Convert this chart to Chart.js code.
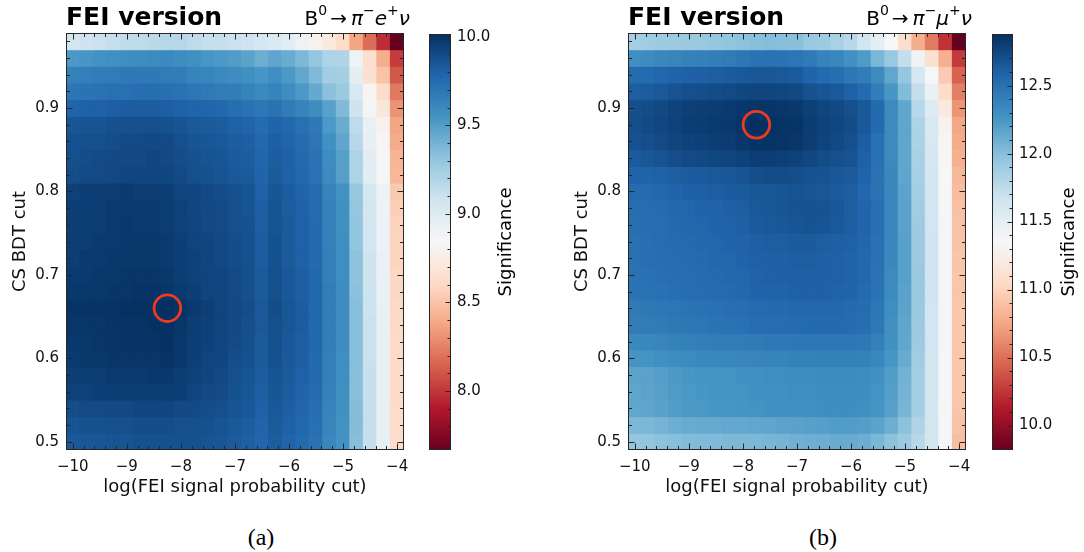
<!DOCTYPE html>
<html>
<head>
<meta charset="utf-8">
<script src="https://cdn.jsdelivr.net/npm/chart.js@4.4.1/dist/chart.umd.min.js"></script>
<style>
  html, body { margin: 0; padding: 0; background: #fff; }
  #fig { position: relative; width: 1084px; height: 552px; overflow: hidden;
         font-family: 'DejaVu Sans', sans-serif; color: #000; }
  .box { position: absolute; top: 0; }
  .box canvas { display: block; }
  .ttl { position: absolute; top: 2px; font-weight: bold; font-size: 25px; line-height: 29px; white-space: nowrap; }
  .decay { position: absolute; top: 6px; width: 220px; font-size: 20px; line-height: 24px;
           text-align: right; white-space: nowrap; }
  .decay sup { font-size: 70%; line-height: 0; position: relative; top: -0.15em; vertical-align: super; }
  .decay i { font-family: 'DejaVu Sans', sans-serif; font-style: oblique; }
  .arrow { padding: 0 4px 0 3px; }
  .cblab { position: absolute; width: 200px; height: 22px; line-height: 22px; font-size: 18px;
           text-align: center; transform: rotate(-90deg); white-space: nowrap; }
  .sub { position: absolute; top: 523px; width: 60px; line-height: 28px; text-align: center;
         font-family: 'Liberation Serif', 'Times New Roman', serif; font-size: 24px; }
</style>
</head>
<body>
<div id="fig">
  <div class="box" style="left:0px"><canvas id="mapE" width="420" height="500"></canvas></div>
  <div class="box" style="left:420px"><canvas id="barE" width="90" height="500"></canvas></div>
  <div class="box" style="left:562px"><canvas id="mapMu" width="420" height="500"></canvas></div>
  <div class="box" style="left:983px"><canvas id="barMu" width="90" height="500"></canvas></div>

  <div class="ttl" style="left:66px">FEI version</div>
  <div class="decay" style="left:190px">B<sup>0</sup><span class="arrow">→</span><i>π</i><sup>−</sup><i>e</i><sup>+</sup><i>ν</i></div>
  <div class="ttl" style="left:628px">FEI version</div>
  <div class="decay" style="left:752px">B<sup>0</sup><span class="arrow">→</span><i>π</i><sup>−</sup><i>μ</i><sup>+</sup><i>ν</i></div>

  <div class="cblab" style="left:405px; top:231px">Significance</div>
  <div class="cblab" style="left:968px; top:231px">Significance</div>

  <div class="sub" style="left:231px">(a)</div>
  <div class="sub" style="left:793px">(b)</div>
</div>

<script>
// Scan grid: FEI signal-probability cut (log10) and continuum-suppression BDT cut
const feiCuts = [-10, -9.75, -9.5, -9.25, -9, -8.75, -8.5, -8.25, -8, -7.75, -7.5, -7.25, -7,
                 -6.75, -6.5, -6.25, -6, -5.75, -5.5, -5.25, -5, -4.75, -4.5, -4.25, -4];
const bdtCuts = [0.98, 0.96, 0.94, 0.92, 0.90, 0.88, 0.86, 0.84, 0.82, 0.80, 0.78, 0.76, 0.74,
                 0.72, 0.70, 0.68, 0.66, 0.64, 0.62, 0.60, 0.58, 0.56, 0.54, 0.52, 0.50];
const feiTicks = [-10, -9, -8, -7, -6, -5, -4];
const bdtTicks = [0.5, 0.6, 0.7, 0.8, 0.9];

// Significance, B0 -> pi- e+ nu (rows follow bdtCuts, columns follow feiCuts)
const sigElectron = [
  [9.07,9.08,9.10,9.12,9.14,9.15,9.16,9.18,9.18,9.15,9.12,9.11,9.10,9.08,9.05,9.02,8.97,8.90,8.80,8.72,8.62,8.37,8.18,7.97,7.667],
  [9.52,9.53,9.55,9.56,9.57,9.58,9.59,9.60,9.58,9.56,9.53,9.52,9.50,9.47,9.42,9.46,9.43,9.37,9.30,9.21,9.20,8.90,8.64,8.41,8.02],
  [9.64,9.65,9.66,9.67,9.68,9.68,9.68,9.67,9.66,9.63,9.62,9.60,9.58,9.56,9.53,9.57,9.52,9.45,9.36,9.25,9.24,8.96,8.65,8.50,8.11],
  [9.70,9.71,9.72,9.73,9.73,9.74,9.74,9.73,9.72,9.70,9.68,9.67,9.66,9.63,9.60,9.63,9.58,9.52,9.44,9.33,9.28,9.03,8.82,8.62,8.22],
  [9.79,9.80,9.80,9.81,9.82,9.82,9.82,9.81,9.80,9.79,9.78,9.77,9.74,9.72,9.69,9.72,9.67,9.63,9.58,9.48,9.36,9.08,8.86,8.70,8.31],
  [9.85,9.86,9.86,9.87,9.88,9.88,9.88,9.87,9.86,9.84,9.83,9.82,9.80,9.79,9.75,9.79,9.77,9.73,9.68,9.52,9.43,9.15,8.93,8.79,8.37],
  [9.87,9.88,9.88,9.89,9.90,9.90,9.91,9.90,9.88,9.86,9.85,9.84,9.82,9.81,9.77,9.81,9.79,9.75,9.70,9.56,9.46,9.17,8.94,8.82,8.40],
  [9.88,9.89,9.90,9.90,9.91,9.91,9.92,9.91,9.89,9.87,9.86,9.85,9.83,9.82,9.78,9.82,9.80,9.76,9.71,9.58,9.49,9.21,8.97,8.85,8.44],
  [9.89,9.90,9.90,9.91,9.92,9.92,9.92,9.92,9.90,9.88,9.87,9.86,9.84,9.83,9.79,9.83,9.80,9.77,9.72,9.59,9.49,9.21,8.97,8.85,8.45],
  [9.94,9.95,9.95,9.96,9.97,9.96,9.96,9.95,9.93,9.92,9.90,9.89,9.87,9.86,9.80,9.85,9.82,9.79,9.75,9.63,9.55,9.29,9.05,8.90,8.53],
  [9.95,9.95,9.96,9.97,9.97,9.97,9.97,9.96,9.94,9.92,9.91,9.90,9.88,9.86,9.81,9.86,9.82,9.80,9.75,9.64,9.56,9.30,9.06,8.90,8.56],
  [9.95,9.96,9.96,9.97,9.98,9.97,9.97,9.96,9.94,9.93,9.91,9.90,9.88,9.87,9.81,9.86,9.83,9.80,9.76,9.64,9.56,9.31,9.07,8.91,8.57],
  [9.96,9.96,9.97,9.97,9.98,9.98,9.98,9.97,9.95,9.93,9.92,9.91,9.89,9.87,9.82,9.87,9.83,9.80,9.76,9.64,9.57,9.31,9.07,8.91,8.58],
  [9.96,9.97,9.97,9.98,9.98,9.98,9.98,9.97,9.95,9.94,9.92,9.91,9.89,9.87,9.82,9.87,9.83,9.80,9.76,9.65,9.57,9.32,9.08,8.92,8.58],
  [9.97,9.97,9.98,9.98,9.99,9.99,9.99,9.98,9.96,9.94,9.93,9.92,9.90,9.88,9.83,9.88,9.84,9.81,9.77,9.65,9.57,9.32,9.08,8.92,8.59],
  [9.98,9.98,9.98,9.99,9.99,10.00,10.00,9.99,9.97,9.95,9.93,9.92,9.90,9.88,9.83,9.88,9.84,9.81,9.77,9.66,9.58,9.33,9.09,8.92,8.59],
  [10.00,10.00,10.00,10.00,10.01,10.01,10.01,10.015,10.00,9.97,9.95,9.93,9.91,9.89,9.84,9.89,9.85,9.82,9.77,9.66,9.58,9.34,9.09,8.93,8.60],
  [9.99,9.99,9.99,10.00,10.00,10.00,10.01,10.01,9.99,9.96,9.94,9.93,9.91,9.88,9.84,9.88,9.85,9.82,9.77,9.66,9.58,9.34,9.10,8.93,8.60],
  [9.98,9.98,9.99,9.99,10.00,10.00,10.00,10.01,9.98,9.96,9.94,9.92,9.90,9.88,9.83,9.88,9.84,9.81,9.77,9.66,9.58,9.34,9.10,8.93,8.61],
  [9.97,9.98,9.98,9.99,9.99,9.99,9.99,10.00,9.98,9.95,9.93,9.92,9.89,9.87,9.83,9.87,9.84,9.81,9.76,9.65,9.57,9.34,9.10,8.93,8.61],
  [9.95,9.96,9.96,9.97,9.97,9.97,9.98,9.98,9.96,9.94,9.92,9.91,9.88,9.86,9.82,9.86,9.83,9.80,9.76,9.65,9.57,9.34,9.11,8.93,8.61],
  [9.94,9.94,9.95,9.95,9.96,9.96,9.96,9.96,9.95,9.93,9.91,9.90,9.87,9.85,9.81,9.85,9.82,9.79,9.75,9.64,9.56,9.34,9.11,8.93,8.61],
  [9.89,9.90,9.90,9.91,9.91,9.92,9.92,9.92,9.91,9.90,9.89,9.88,9.86,9.84,9.80,9.84,9.81,9.78,9.74,9.63,9.56,9.35,9.12,8.94,8.62],
  [9.86,9.87,9.87,9.88,9.88,9.89,9.89,9.89,9.88,9.88,9.87,9.86,9.84,9.82,9.79,9.83,9.80,9.77,9.73,9.62,9.55,9.35,9.12,8.94,8.62],
  [9.84,9.85,9.85,9.86,9.86,9.87,9.87,9.87,9.87,9.87,9.86,9.85,9.83,9.81,9.78,9.82,9.79,9.76,9.72,9.61,9.55,9.34,9.12,8.94,8.62]
];

// Significance, B0 -> pi- mu+ nu
const sigMuon = [
  [11.88,11.89,11.90,11.91,11.92,11.93,11.94,11.96,11.98,12.00,12.01,12.00,11.99,11.93,11.90,11.85,11.78,11.64,11.50,11.35,11.08,10.79,10.55,10.24,9.82],
  [12.30,12.32,12.35,12.37,12.39,12.40,12.41,12.43,12.46,12.48,12.49,12.48,12.47,12.44,12.38,12.35,12.28,12.22,12.05,11.93,11.72,11.42,11.11,10.80,10.27],
  [12.54,12.55,12.57,12.59,12.60,12.61,12.62,12.63,12.65,12.66,12.66,12.65,12.64,12.58,12.55,12.52,12.46,12.42,12.33,12.15,11.95,11.62,11.37,10.95,10.45],
  [12.62,12.63,12.65,12.68,12.70,12.71,12.72,12.73,12.75,12.76,12.76,12.75,12.74,12.69,12.67,12.65,12.60,12.55,12.42,12.25,12.02,11.72,11.46,11.06,10.57],
  [12.70,12.72,12.74,12.77,12.79,12.80,12.81,12.82,12.84,12.85,12.85,12.84,12.83,12.79,12.76,12.74,12.70,12.65,12.55,12.33,12.15,11.78,11.55,11.20,10.67],
  [12.71,12.73,12.75,12.78,12.80,12.81,12.82,12.83,12.86,12.88,12.87,12.86,12.85,12.81,12.78,12.75,12.72,12.65,12.55,12.33,12.16,11.83,11.60,11.29,10.75],
  [12.69,12.71,12.73,12.76,12.78,12.79,12.80,12.81,12.84,12.86,12.86,12.85,12.84,12.80,12.77,12.74,12.70,12.62,12.50,12.33,12.16,11.84,11.61,11.32,10.78],
  [12.64,12.66,12.68,12.71,12.73,12.74,12.75,12.76,12.78,12.80,12.80,12.79,12.78,12.75,12.72,12.70,12.68,12.60,12.50,12.33,12.15,11.85,11.62,11.33,10.80],
  [12.58,12.59,12.60,12.62,12.63,12.64,12.65,12.66,12.68,12.71,12.72,12.72,12.71,12.69,12.68,12.66,12.64,12.58,12.49,12.34,12.16,11.86,11.63,11.35,10.84],
  [12.54,12.55,12.56,12.58,12.60,12.61,12.62,12.63,12.64,12.66,12.66,12.67,12.68,12.67,12.66,12.64,12.62,12.56,12.49,12.34,12.17,11.88,11.64,11.36,10.87],
  [12.52,12.53,12.54,12.56,12.57,12.58,12.59,12.60,12.62,12.65,12.66,12.67,12.68,12.69,12.68,12.66,12.62,12.58,12.51,12.35,12.18,11.89,11.65,11.37,10.89],
  [12.51,12.52,12.53,12.55,12.56,12.57,12.58,12.59,12.61,12.64,12.65,12.66,12.67,12.68,12.67,12.65,12.62,12.58,12.51,12.35,12.18,11.90,11.65,11.38,10.90],
  [12.50,12.51,12.53,12.54,12.55,12.56,12.57,12.58,12.59,12.61,12.62,12.62,12.63,12.63,12.62,12.61,12.60,12.57,12.50,12.34,12.19,11.91,11.66,11.38,10.91],
  [12.50,12.51,12.52,12.53,12.54,12.55,12.56,12.57,12.58,12.60,12.61,12.61,12.62,12.62,12.61,12.60,12.59,12.56,12.50,12.34,12.19,11.91,11.66,11.38,10.92],
  [12.49,12.50,12.51,12.52,12.53,12.54,12.55,12.56,12.57,12.59,12.60,12.60,12.61,12.61,12.60,12.60,12.59,12.56,12.49,12.33,12.19,11.92,11.66,11.38,10.92],
  [12.48,12.49,12.50,12.51,12.52,12.53,12.54,12.55,12.56,12.58,12.59,12.59,12.60,12.60,12.60,12.59,12.58,12.55,12.48,12.32,12.18,11.92,11.66,11.38,10.92],
  [12.44,12.45,12.46,12.47,12.48,12.49,12.50,12.51,12.52,12.54,12.55,12.55,12.56,12.56,12.56,12.56,12.55,12.53,12.46,12.30,12.17,11.92,11.65,11.38,10.93],
  [12.42,12.43,12.44,12.45,12.46,12.47,12.48,12.49,12.50,12.52,12.53,12.53,12.54,12.55,12.55,12.55,12.54,12.52,12.45,12.29,12.16,11.91,11.65,11.38,10.93],
  [12.34,12.35,12.37,12.39,12.40,12.41,12.42,12.42,12.43,12.44,12.45,12.45,12.46,12.46,12.47,12.47,12.47,12.45,12.40,12.28,12.15,11.90,11.65,11.38,10.93],
  [12.26,12.27,12.29,12.31,12.33,12.34,12.35,12.35,12.36,12.37,12.38,12.38,12.39,12.39,12.40,12.40,12.40,12.39,12.35,12.25,12.12,11.89,11.64,11.37,10.93],
  [12.17,12.18,12.20,12.23,12.25,12.26,12.27,12.27,12.28,12.29,12.30,12.30,12.31,12.31,12.32,12.32,12.32,12.31,12.28,12.21,12.08,11.88,11.64,11.37,10.93],
  [12.16,12.17,12.19,12.22,12.24,12.25,12.26,12.26,12.27,12.28,12.29,12.29,12.30,12.30,12.31,12.31,12.31,12.30,12.27,12.20,12.07,11.88,11.64,11.37,10.93],
  [12.15,12.16,12.18,12.21,12.23,12.24,12.25,12.25,12.26,12.27,12.28,12.28,12.29,12.29,12.30,12.30,12.30,12.29,12.26,12.19,12.06,11.87,11.63,11.36,10.92],
  [12.04,12.05,12.07,12.10,12.12,12.13,12.13,12.14,12.14,12.15,12.16,12.17,12.18,12.19,12.20,12.21,12.21,12.20,12.17,12.10,11.98,11.82,11.64,11.37,10.90],
  [11.95,11.96,11.98,12.00,12.02,12.03,12.03,12.04,12.04,12.05,12.06,12.07,12.09,12.10,12.11,12.12,12.12,12.11,12.05,11.98,11.91,11.78,11.64,11.37,10.88]
];

// Highest-significance working points
const bestElectron = { x: -8.25, y: 0.66 };
const bestMuon = { x: -7.75, y: 0.88 };

// Colour-bar tick labels
const cbarTicksElectron = [8.0, 8.5, 9.0, 9.5, 10.0];
const cbarTicksMuon = [10.0, 10.5, 11.0, 11.5, 12.0, 12.5];

// ---------------------------------------------------------------------------
Chart.defaults.font.family = "'DejaVu Sans', sans-serif";
Chart.defaults.font.size = 15;
Chart.defaults.color = '#111';

// Diverging red-white-blue colour map (11 anchor colours)
const RDBU = ['#67001f', '#b2182b', '#d6604d', '#f4a582', '#fddbc7', '#f7f7f7',
              '#d1e5f0', '#92c5de', '#4393c3', '#2166ac', '#053061'];
const RDBU_RGB = RDBU.map(h => [1, 3, 5].map(i => parseInt(h.slice(i, i + 2), 16)));
function rdbu(t) {
  t = Math.min(1, Math.max(0, t));
  const p = t * 10, i = Math.min(9, Math.floor(p)), f = p - i;
  const a = RDBU_RGB[i], b = RDBU_RGB[i + 1];
  const c = a.map((v, k) => Math.round(v + (b[k] - v) * f));
  return `rgb(${c[0]},${c[1]},${c[2]})`;
}

const minus = v => (v < 0 ? '\u2212' + Math.abs(v) : String(v));
const AXIS = '#262626';
const noGrid = { display: false, drawTicks: false };

// Inward tick marks (major + minor) and the frame around the plotting area
function inwardTicks(spec) {
  return {
    id: 'inwardTicks',
    afterDatasetsDraw(chart) {
      const ctx = chart.ctx, a = chart.chartArea;
      const L = Math.round(a.left) + 0.5, R = Math.round(a.right) - 0.5;
      const T = Math.round(a.top) + 0.5, B = Math.round(a.bottom) - 0.5;
      ctx.save();
      ctx.strokeStyle = AXIS;
      ctx.lineWidth = 1;
      ctx.beginPath();
      for (const ax of spec) {
        const s = chart.scales[ax.id];
        const marks = ax.major.map(v => [v, ax.majorLen]);
        const k0 = Math.ceil(s.min / ax.minorStep - 1e-6), k1 = Math.floor(s.max / ax.minorStep + 1e-6);
        for (let k = k0; k <= k1; k++) {
          const v = k * ax.minorStep;
          if (!ax.major.some(m => Math.abs(m - v) < ax.minorStep / 10)) marks.push([v, ax.minorLen]);
        }
        for (const [v, len] of marks) {
          const p = Math.round(s.getPixelForValue(v)) + 0.5;
          if (s.isHorizontal()) {
            if (ax.sides.includes('bottom')) { ctx.moveTo(p, B); ctx.lineTo(p, B - len); }
            if (ax.sides.includes('top')) { ctx.moveTo(p, T); ctx.lineTo(p, T + len); }
          } else {
            if (ax.sides.includes('left')) { ctx.moveTo(L, p); ctx.lineTo(L + len, p); }
            if (ax.sides.includes('right')) { ctx.moveTo(R, p); ctx.lineTo(R - len, p); }
          }
        }
      }
      ctx.stroke();
      ctx.strokeRect(L, T, R - L, B - T);
      ctx.restore();
    }
  };
}

function valueRange(grid) {
  const flat = grid.flat();
  return { min: Math.min(...flat), max: Math.max(...flat) };
}

function heatmap(canvasId, grid, best) {
  const range = valueRange(grid);
  const dx = feiCuts[1] - feiCuts[0];
  const dy = Math.abs(bdtCuts[0] - bdtCuts[1]);
  const cells = bdtCuts.map((yc, r) => ({
    type: 'bar',
    data: feiCuts.map(x => ({ x, y: [yc - dy / 2, yc + dy / 2] })),
    backgroundColor: grid[r].map(v => rdbu((v - range.min) / (range.max - range.min))),
    borderWidth: 0,
    grouped: false,
    barPercentage: 1,
    categoryPercentage: 1,
    inflateAmount: 0.5,
    order: 1
  }));
  const marker = {
    type: 'scatter',
    data: [best],
    pointStyle: 'circle',
    pointRadius: 13.3,
    pointBorderWidth: 2.8,
    pointBorderColor: '#ee3a1d',
    pointBackgroundColor: 'rgba(0,0,0,0)',
    order: -1
  };
  return new Chart(document.getElementById(canvasId), {
    type: 'bar',
    data: { datasets: [marker, ...cells] },
    options: {
      responsive: false,
      animation: false,
      devicePixelRatio: 1,
      events: [],
      layout: { padding: { left: 0, top: 33, right: 12, bottom: 0 } },
      plugins: { legend: { display: false }, tooltip: { enabled: false } },
      scales: {
        x: {
          type: 'linear',
          offset: false,
          min: feiCuts[0] - dx / 2,
          max: feiCuts[feiCuts.length - 1] + dx / 2,
          grid: noGrid,
          border: { display: false },
          afterBuildTicks: s => { s.ticks = feiTicks.map(v => ({ value: v })); },
          afterFit: s => { s.height = 50; s.paddingLeft = 0; s.paddingRight = 0; },
          ticks: { padding: 8, maxRotation: 0, autoSkip: false, callback: v => minus(v) },
          title: { display: true, text: 'log(FEI signal probability cut)', font: { size: 18 },
                   color: '#111', padding: { top: 0, bottom: 2 } }
        },
        y: {
          type: 'linear',
          min: bdtCuts[bdtCuts.length - 1] - dy / 2,
          max: bdtCuts[0] + dy / 2,
          grid: noGrid,
          border: { display: false },
          afterBuildTicks: s => { s.ticks = bdtTicks.map(v => ({ value: v })); },
          afterFit: s => { s.width = 66; s.paddingTop = 0; s.paddingBottom = 0; },
          ticks: { padding: 7, autoSkip: false, callback: v => v.toFixed(1) },
          title: { display: true, text: 'CS BDT cut', font: { size: 18 }, color: '#111',
                   padding: { top: 10, bottom: 0 } }
        }
      }
    },
    plugins: [inwardTicks([
      { id: 'x', major: feiTicks, minorStep: 0.2, majorLen: 6, minorLen: 3.5, sides: ['bottom', 'top'] },
      { id: 'y', major: bdtTicks, minorStep: 0.02, majorLen: 6, minorLen: 3.5, sides: ['left', 'right'] }
    ])]
  });
}

function colorbar(canvasId, grid, ticks, barWidth) {
  const range = valueRange(grid);
  return new Chart(document.getElementById(canvasId), {
    type: 'bar',
    data: {
      labels: [''],
      datasets: [{
        data: [[range.min, range.max]],
        backgroundColor: ctx => {
          const a = ctx.chart.chartArea;
          if (!a) return '#f7f7f7';
          const g = ctx.chart.ctx.createLinearGradient(0, a.bottom, 0, a.top);
          RDBU.forEach((c, i) => g.addColorStop(i / 10, c));
          return g;
        },
        borderWidth: 0,
        barPercentage: 1,
        categoryPercentage: 1,
        inflateAmount: 0
      }]
    },
    options: {
      responsive: false,
      animation: false,
      devicePixelRatio: 1,
      events: [],
      layout: { padding: { left: 9, top: 34, right: 0, bottom: 50 } },
      plugins: { legend: { display: false }, tooltip: { enabled: false } },
      scales: {
        x: { display: false },
        y: {
          position: 'right',
          min: range.min,
          max: range.max,
          grid: noGrid,
          border: { display: false },
          afterBuildTicks: s => { s.ticks = ticks.map(v => ({ value: v })); },
          afterFit: s => { s.width = 90 - 9 - barWidth; s.paddingTop = 0; s.paddingBottom = 0; },
          ticks: { padding: 6, autoSkip: false, callback: v => v.toFixed(1) }
        }
      }
    },
    plugins: [inwardTicks([
      { id: 'y', major: ticks, minorStep: 0.1, majorLen: 5, minorLen: 3, sides: ['right'] }
    ])]
  });
}

heatmap('mapE', sigElectron, bestElectron);
colorbar('barE', sigElectron, cbarTicksElectron, 22);
heatmap('mapMu', sigMuon, bestMuon);
colorbar('barMu', sigMuon, cbarTicksMuon, 21);
</script>
</body>
</html>
